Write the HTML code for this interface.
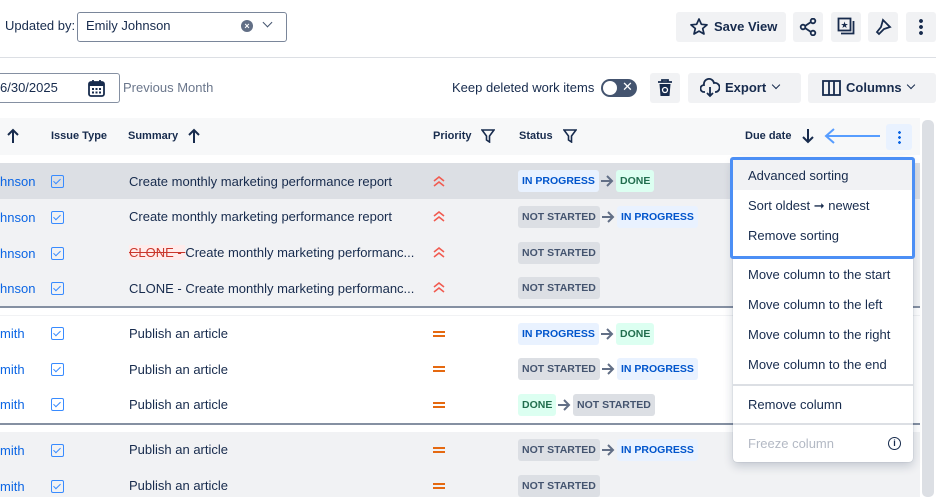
<!DOCTYPE html>
<html><head><meta charset="utf-8"><style>
*{box-sizing:border-box;margin:0;padding:0}
body{width:944px;height:497px;overflow:hidden;background:#fff;font-family:"Liberation Sans",sans-serif;color:#172b4d;position:relative;font-size:13px}
.a{position:absolute;white-space:nowrap}
.btn{position:absolute;background:#f1f2f4;border-radius:3px}
.hd{font-size:11px;font-weight:bold;color:#172b4d}
.row{position:absolute;left:0;width:920px;height:36px}
.name{position:absolute;left:0;color:#0c66e4;font-size:13px}
.cb{position:absolute;left:51px;width:13px;height:13px;border:1.5px solid #388bff;border-radius:2px}
.cb:after{content:"";position:absolute;left:3px;top:1px;width:3px;height:6px;border:solid #388bff;border-width:0 1.5px 1.5px 0;transform:rotate(45deg)}
.sum{position:absolute;left:129px;font-size:13px;color:#172b4d}
.lz{position:absolute;height:22px;line-height:22px;padding:0 4px;font-size:10.5px;font-weight:bold;border-radius:3px}
.ip{background:#e9f2ff;color:#0055cc}
.dn{background:#dcfff1;color:#216e4e}
.ns{background:#dcdfe4;color:#44546f}
.arr{position:absolute}
.mi{position:absolute;left:748px;font-size:13px;color:#172b4d}
.hi{position:absolute;left:433px}
.me{position:absolute;left:433px;width:12px;height:6px;border-top:2px solid #e56910;border-bottom:2px solid #e56910}
</style></head><body>
<svg width="0" height="0" style="position:absolute"><defs>
<symbol id="ra" viewBox="0 0 14 14"><path d="M1 7H12M7 2L12 7L7 12" fill="none" stroke="#626f86" stroke-width="2"/></symbol>
<symbol id="hi" viewBox="0 0 12 12"><path d="M1 5L6 1L11 5M1 10L6 6L11 10" fill="none" stroke="#f15b50" stroke-width="1.6"/></symbol>
</defs></svg>

<div class="a" style="left:5px;top:18px;font-size:13px">Updated by:</div>
<div class="a" style="left:77px;top:12px;width:210px;height:30px;border:1px solid #7a869a;border-radius:3px"></div>
<div class="a" style="left:86px;top:18px">Emily Johnson</div>
<div class="a" style="left:241px;top:20px;width:12px;height:12px;border-radius:50%;background:#626f86;color:#fff;font-size:9px;line-height:12px;text-align:center;font-weight:bold">×</div>
<div class="a" style="left:264px;top:19px;width:7px;height:7px;border:solid #44546f;border-width:0 1.5px 1.5px 0;transform:rotate(45deg)"></div>

<div class="btn" style="left:676px;top:12px;width:110px;height:30px"></div>
<svg class="a" style="left:689px;top:17px" width="20" height="20"><path d="M10 2L12.4 7.3L18 7.8L13.7 11.5L15 17L10 14.1L5 17L6.3 11.5L2 7.8L7.6 7.3Z" fill="none" stroke="#172b4d" stroke-width="1.7" stroke-linejoin="round"/></svg>
<div class="a" style="left:714px;top:19px;font-size:13px;font-weight:bold;color:#172b4d">Save View</div>
<div class="btn" style="left:793px;top:12px;width:30px;height:30px"></div>
<svg class="a" style="left:799px;top:18px" width="18" height="18"><circle cx="14" cy="3" r="2.3" fill="none" stroke="#172b4d" stroke-width="1.8"/><circle cx="4" cy="9" r="2.3" fill="none" stroke="#172b4d" stroke-width="1.8"/><circle cx="14" cy="15" r="2.3" fill="none" stroke="#172b4d" stroke-width="1.8"/><path d="M6 8L12 4M6 10L12 14" stroke="#172b4d" stroke-width="1.8"/></svg>
<div class="btn" style="left:831px;top:12px;width:30px;height:30px"></div>
<svg class="a" style="left:837px;top:17px" width="18" height="20"><rect x="1.5" y="1.5" width="12" height="12" fill="none" stroke="#172b4d" stroke-width="1.8"/><path d="M4 16.5H16.5V4" fill="none" stroke="#172b4d" stroke-width="1.8"/><text x="3.5" y="11" font-size="9" fill="#172b4d">★</text></svg>
<div class="btn" style="left:868px;top:12px;width:30px;height:30px"></div>
<svg class="a" style="left:874px;top:18px" width="18" height="18"><path d="M9 2L16 9L10 11L5 16L3 14L7 9Z" fill="none" stroke="#172b4d" stroke-width="1.8"/></svg>
<div class="btn" style="left:906px;top:12px;width:30px;height:30px"></div>
<div class="a" style="left:919px;top:18px;width:4px;height:18px;background:radial-gradient(circle,#172b4d 1.8px,transparent 2px) 0 0/4px 6px"></div>

<div class="a" style="left:0;top:57px;width:936px;height:1px;background:#dcdfe4"></div>

<div class="a" style="left:-5px;top:73px;width:125px;height:30px;border:1px solid #8590a2;border-radius:3px"></div>
<div class="a" style="left:0;top:80px">6/30/2025</div>
<svg class="a" style="left:88px;top:79px" width="17" height="18"><rect x="1" y="3" width="15" height="14" rx="2" fill="none" stroke="#172b4d" stroke-width="1.8"/><rect x="1" y="3" width="15" height="4" fill="#172b4d"/><path d="M5 1V4M12 1V4" stroke="#172b4d" stroke-width="1.8"/><g fill="#172b4d"><rect x="4" y="9" width="2" height="2"/><rect x="7.5" y="9" width="2" height="2"/><rect x="11" y="9" width="2" height="2"/><rect x="4" y="12.5" width="2" height="2"/><rect x="7.5" y="12.5" width="2" height="2"/><rect x="11" y="12.5" width="2" height="2"/></g></svg>
<div class="a" style="left:123px;top:80px;color:#6b778c">Previous Month</div>

<div class="a" style="left:452px;top:80px;color:#172b4d">Keep deleted work items</div>
<div class="a" style="left:601px;top:79px;width:36px;height:18px;border-radius:9px;background:#44546f"></div>
<div class="a" style="left:603px;top:81px;width:14px;height:14px;border-radius:50%;background:#fff"></div>
<div class="a" style="left:622px;top:79px;color:#fff;font-size:13px">✕</div>

<div class="btn" style="left:650px;top:73px;width:30px;height:30px"></div>
<svg class="a" style="left:657px;top:79px" width="16" height="18"><path d="M1 3H15M5 3V1H11V3" stroke="#172b4d" stroke-width="1.8" fill="none"/><path d="M2.5 5H13.5L12.5 17H3.5Z" fill="#172b4d"/><circle cx="8" cy="11" r="2.5" fill="none" stroke="#fff" stroke-width="1.3"/></svg>
<div class="btn" style="left:688px;top:73px;width:113px;height:30px"></div>
<svg class="a" style="left:700px;top:78px" width="20" height="20"><path d="M5 14H4A3.5 3.5 0 0 1 4 7A5 5 0 0 1 14 5A4 4 0 0 1 16 14H15" fill="none" stroke="#172b4d" stroke-width="1.8"/><path d="M10 9V18M7 15L10 18L13 15" fill="none" stroke="#172b4d" stroke-width="1.8"/></svg>
<div class="a" style="left:725px;top:80px;font-weight:bold">Export</div>
<div class="a" style="left:773px;top:82px;width:6px;height:6px;border:solid #172b4d;border-width:0 1.5px 1.5px 0;transform:rotate(45deg)"></div>
<div class="btn" style="left:808px;top:73px;width:128px;height:30px"></div>
<svg class="a" style="left:822px;top:80px" width="19" height="16"><rect x="1" y="1" width="17" height="14" fill="none" stroke="#172b4d" stroke-width="1.8"/><path d="M7 1V15M12 1V15" stroke="#172b4d" stroke-width="1.8"/></svg>
<div class="a" style="left:846px;top:80px;font-weight:bold">Columns</div>
<div class="a" style="left:908px;top:82px;width:6px;height:6px;border:solid #172b4d;border-width:0 1.5px 1.5px 0;transform:rotate(45deg)"></div>

<!-- header -->
<div class="a" style="left:0;top:118px;width:920px;height:37px;background:#f7f8f9"></div>
<svg class="a" style="left:6px;top:128px" width="14" height="16"><path d="M7 15V2M2 7L7 2L12 7" fill="none" stroke="#172b4d" stroke-width="2"/></svg>
<div class="a hd" style="left:51px;top:130px">Issue Type</div>
<div class="a hd" style="left:128px;top:130px">Summary</div>
<svg class="a" style="left:187px;top:128px" width="14" height="16"><path d="M7 15V2M2 7L7 2L12 7" fill="none" stroke="#172b4d" stroke-width="2"/></svg>
<div class="a hd" style="left:433px;top:130px">Priority</div>
<svg class="a" style="left:481px;top:129px" width="14" height="14"><path d="M1 1H13L8.5 7V13L5.5 11V7Z" fill="none" stroke="#172b4d" stroke-width="1.6"/></svg>
<div class="a hd" style="left:519px;top:130px">Status</div>
<svg class="a" style="left:563px;top:129px" width="14" height="14"><path d="M1 1H13L8.5 7V13L5.5 11V7Z" fill="none" stroke="#172b4d" stroke-width="1.6"/></svg>
<div class="a hd" style="left:745px;top:130px">Due date</div>
<svg class="a" style="left:801px;top:128px" width="14" height="16"><path d="M7 1V14M2 9L7 14L12 9" fill="none" stroke="#172b4d" stroke-width="2"/></svg>
<svg class="a" style="left:822px;top:127px" width="60" height="18"><path d="M4 9H58M12 2L4 9L12 16" fill="none" stroke="#579dff" stroke-width="2"/></svg>
<div class="a" style="left:886px;top:124px;width:26px;height:26px;background:#e9f2ff;border-radius:3px"></div>
<div class="a" style="left:898px;top:130px;width:3px;height:14px;background:radial-gradient(circle,#0c66e4 1.3px,transparent 1.5px) 0 0/3px 5px"></div>

<!-- scrollbar -->
<div class="a" style="left:922px;top:120px;width:12px;height:377px;background:#dcdfe4;border-radius:5px"></div>

<!-- groups -->
<div class="row" style="top:163px;background:#dcdfe4"></div>
<div class="row" style="top:199px;height:108px;background:#f1f2f4"></div>
<div class="a" style="left:0;top:306px;width:920px;height:1.5px;background:#8590a2"></div>
<div class="a" style="left:0;top:315px;width:920px;height:1px;background:#f1f2f4"></div>
<div class="a" style="left:0;top:423px;width:920px;height:1.5px;background:#8590a2"></div>
<div class="row" style="top:432px;height:65px;background:#f1f2f4"></div>

<!-- rows -->
<div class="name a" style="top:174px">hnson</div><div class="cb" style="top:175px"></div><div class="sum" style="top:174px">Create monthly marketing performance report</div>
<div class="name a" style="top:210px">hnson</div><div class="cb" style="top:211px"></div><div class="sum" style="top:209px">Create monthly marketing performance report</div>
<div class="name a" style="top:246px">hnson</div><div class="cb" style="top:247px"></div><div class="sum" style="top:245px"><span style="color:#c9372c;text-decoration:line-through;background:#ffeceb">CLONE - </span>Create monthly marketing performanc...</div>
<div class="name a" style="top:281px">hnson</div><div class="cb" style="top:282px"></div><div class="sum" style="top:281px">CLONE - Create monthly marketing performanc...</div>
<div class="name a" style="top:326px">mith</div><div class="cb" style="top:327px"></div><div class="sum" style="top:326px">Publish an article</div>
<div class="name a" style="top:362px">mith</div><div class="cb" style="top:363px"></div><div class="sum" style="top:362px">Publish an article</div>
<div class="name a" style="top:397px">mith</div><div class="cb" style="top:398px"></div><div class="sum" style="top:397px">Publish an article</div>
<div class="name a" style="top:443px">mith</div><div class="cb" style="top:444px"></div><div class="sum" style="top:442px">Publish an article</div>
<div class="name a" style="top:479px">mith</div><div class="cb" style="top:480px"></div><div class="sum" style="top:478px">Publish an article</div>

<!-- priorities -->
<svg class="hi" style="top:176px" width="12" height="12"><use href="#hi"/></svg>
<svg class="hi" style="top:211px" width="12" height="12"><use href="#hi"/></svg>
<svg class="hi" style="top:247px" width="12" height="12"><use href="#hi"/></svg>
<svg class="hi" style="top:282px" width="12" height="12"><use href="#hi"/></svg>
<div class="me" style="top:331px"></div>
<div class="me" style="top:366px"></div>
<div class="me" style="top:402px"></div>
<div class="me" style="top:447px"></div>
<div class="me" style="top:483px"></div>

<!-- statuses -->
<div class="lz ip" style="left:518px;top:170px">IN PROGRESS</div><svg class="arr" style="left:600px;top:174px" width="14" height="14"><use href="#ra"/></svg><div class="lz dn" style="left:616px;top:170px">DONE</div>
<div class="lz ns" style="left:518px;top:206px">NOT STARTED</div><svg class="arr" style="left:601px;top:210px" width="14" height="14"><use href="#ra"/></svg><div class="lz ip" style="left:617px;top:206px">IN PROGRESS</div>
<div class="lz ns" style="left:518px;top:242px">NOT STARTED</div>
<div class="lz ns" style="left:518px;top:277px">NOT STARTED</div>
<div class="lz ip" style="left:518px;top:323px">IN PROGRESS</div><svg class="arr" style="left:600px;top:327px" width="14" height="14"><use href="#ra"/></svg><div class="lz dn" style="left:616px;top:323px">DONE</div>
<div class="lz ns" style="left:518px;top:358px">NOT STARTED</div><svg class="arr" style="left:601px;top:362px" width="14" height="14"><use href="#ra"/></svg><div class="lz ip" style="left:617px;top:358px">IN PROGRESS</div>
<div class="lz dn" style="left:518px;top:394px">DONE</div><svg class="arr" style="left:557px;top:398px" width="14" height="14"><use href="#ra"/></svg><div class="lz ns" style="left:573px;top:394px">NOT STARTED</div>
<div class="lz ns" style="left:518px;top:439px">NOT STARTED</div><svg class="arr" style="left:601px;top:443px" width="14" height="14"><use href="#ra"/></svg><div class="lz ip" style="left:617px;top:439px">IN PROGRESS</div>
<div class="lz ns" style="left:518px;top:475px">NOT STARTED</div>

<!-- menu -->
<div class="a" style="left:733px;top:158px;width:180px;height:304px;background:#fff;border-radius:4px;box-shadow:0 4px 10px rgba(9,30,66,.2),0 0 1px rgba(9,30,66,.3)"></div>
<div class="a" style="left:733px;top:160px;width:180px;height:30px;background:#f1f2f4"></div>
<div class="a" style="left:730px;top:157px;width:185px;height:102px;border:3px solid #4c8ff5;border-radius:3px"></div>
<div class="mi" style="top:168px">Advanced sorting</div>
<div class="mi" style="top:198px">Sort oldest ➞ newest</div>
<div class="mi" style="top:228px">Remove sorting</div>
<div class="mi" style="top:267px">Move column to the start</div>
<div class="mi" style="top:297px">Move column to the left</div>
<div class="mi" style="top:327px">Move column to the right</div>
<div class="mi" style="top:357px">Move column to the end</div>
<div class="a" style="left:733px;top:384px;width:180px;height:2px;background:#dcdfe4"></div>
<div class="mi" style="top:397px">Remove column</div>
<div class="a" style="left:733px;top:423px;width:180px;height:2px;background:#dcdfe4"></div>
<div class="mi" style="top:436px;color:#b3b9c4">Freeze column</div>
<div class="a" style="left:888px;top:437px;width:13px;height:13px;border:1.6px solid #172b4d;border-radius:50%;font-size:9px;line-height:10px;text-align:center;font-weight:bold">i</div>
</body></html>
